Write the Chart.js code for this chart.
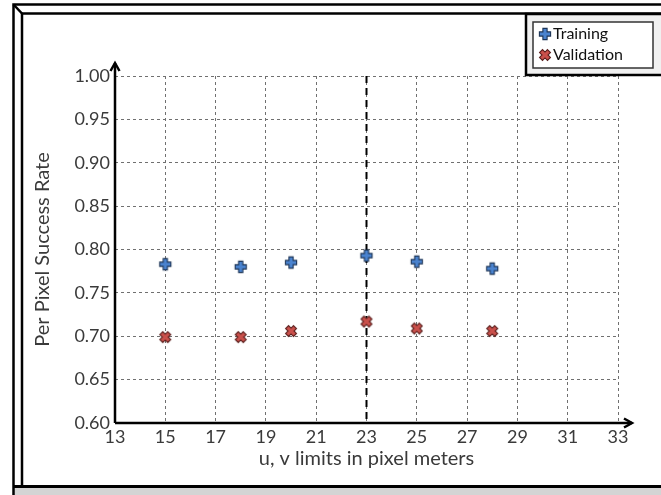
<!DOCTYPE html>
<html><head><meta charset="utf-8">
<script src="https://cdn.jsdelivr.net/npm/chart.js@4.4.0/dist/chart.umd.min.js"></script>
<style>html,body{margin:0;padding:0;background:#fff;}canvas{display:block;}</style>
</head><body>
<canvas id="c" width="661" height="495"></canvas>
<script>
// ---- data ----
const uvLimits = [15, 18, 20, 23, 25, 28];
const trainingRate = [0.783, 0.780, 0.785, 0.793, 0.786, 0.778];
const validationRate = [0.699, 0.699, 0.706, 0.717, 0.709, 0.706];
const seriesNames = ['Training', 'Validation'];
const chosenLimit = 23;
const xTickLabels = ['13','15','17','19','21','23','25','27','29','31','33'];
const yTickLabels = ['0.60','0.65','0.70','0.75','0.80','0.85','0.90','0.95','1.00'];
const xTitle = 'u, v limits in pixel meters';
const yTitle = 'Per Pixel Success Rate';

// ---- marker images ----
function markerImage(fill, stroke, angle) {
  const s = 16, c = document.createElement('canvas');
  c.width = s; c.height = s;
  const g = c.getContext('2d');
  g.translate(s / 2, s / 2);
  g.rotate(angle);
  const a = 5.6, w = 2.1;
  g.beginPath();
  g.moveTo(-w, -a); g.lineTo(w, -a); g.lineTo(w, -w); g.lineTo(a, -w);
  g.lineTo(a, w); g.lineTo(w, w); g.lineTo(w, a); g.lineTo(-w, a);
  g.lineTo(-w, w); g.lineTo(-a, w); g.lineTo(-a, -w); g.lineTo(-w, -w);
  g.closePath();
  g.fillStyle = fill; g.fill();
  g.lineWidth = 1.1; g.strokeStyle = stroke; g.stroke();
  return c;
}
const plusImg = markerImage('#4a83cf', '#1d3557', 0);
const crossImg = markerImage('#c9504b', '#5a1f1d', Math.PI / 4);

const toPoints = (xs, ys) => xs.map((x, i) => ({x: x, y: ys[i]}));

const FONT = 'Lato, "Open Sans", sans-serif';
const TXT = '#3a3a3a';

const decoPlugin = {
  id: 'deco',
  beforeDraw(chart) {
    const ctx = chart.ctx;
    ctx.save();
    ctx.fillStyle = '#fff';
    ctx.fillRect(0, 0, chart.width, chart.height);
    ctx.fillStyle = '#d4d4d4';
    ctx.fillRect(13, 488, 661, 7);
    ctx.strokeStyle = '#000';
    ctx.lineWidth = 2.5;
    ctx.beginPath();
    ctx.moveTo(13.5, 495); ctx.lineTo(13.5, 4.5); ctx.lineTo(661, 4.5);
    ctx.stroke();
    ctx.beginPath();
    ctx.moveTo(22, 486); ctx.lineTo(22, 13.5); ctx.lineTo(661, 13.5);
    ctx.stroke();
    ctx.beginPath();
    ctx.moveTo(13.5, 4.5); ctx.lineTo(22, 13.5); ctx.stroke();
    ctx.lineWidth = 3;
    ctx.beginPath();
    ctx.moveTo(13, 486.5); ctx.lineTo(661, 486.5); ctx.stroke();
    ctx.restore();
  },
  beforeDatasetsDraw(chart) {
    const ctx = chart.ctx, x = chart.scales.x, a = chart.chartArea;
    const px = x.getPixelForValue(chosenLimit);
    ctx.save();
    ctx.strokeStyle = '#000';
    ctx.lineWidth = 2;
    ctx.setLineDash([7, 5]);
    ctx.beginPath();
    ctx.moveTo(px, a.top); ctx.lineTo(px, a.bottom);
    ctx.stroke();
    ctx.restore();
  },
  afterDraw(chart) {
    const ctx = chart.ctx, a = chart.chartArea;
    ctx.save();
    ctx.strokeStyle = '#000';
    ctx.lineWidth = 2.5;
    ctx.lineJoin = 'miter';
    ctx.beginPath();
    ctx.moveTo(a.left, a.bottom); ctx.lineTo(a.left, a.top - 13);
    ctx.moveTo(a.left, a.bottom); ctx.lineTo(a.right + 14, a.bottom);
    ctx.stroke();
    ctx.beginPath();
    ctx.moveTo(a.left - 4.5, a.top - 5); ctx.lineTo(a.left, a.top - 13); ctx.lineTo(a.left + 4.5, a.top - 5);
    ctx.moveTo(a.right + 6, a.bottom - 4.5); ctx.lineTo(a.right + 14, a.bottom); ctx.lineTo(a.right + 6, a.bottom + 4.5);
    ctx.stroke();
    // legend
    ctx.fillStyle = '#f0f0f0';
    ctx.fillRect(525, 13, 136, 62);
    ctx.lineWidth = 2.5;
    ctx.strokeStyle = '#000';
    ctx.strokeRect(526, 14, 140, 61);
    ctx.fillStyle = '#fff';
    ctx.fillRect(533, 22, 120, 46);
    ctx.lineWidth = 1.5;
    ctx.strokeStyle = '#333';
    ctx.strokeRect(533, 22, 120, 46);
    const imgs = [plusImg, crossImg];
    const ys = [34, 55];
    ctx.font = '16px ' + FONT;
    ctx.fillStyle = '#111';
    ctx.textBaseline = 'middle';
    chart.data.datasets.forEach((d, i) => {
      ctx.drawImage(imgs[i], 545 - 8, ys[i] - 8);
      ctx.fillText(d.label, 553, ys[i]);
    });
    ctx.restore();
  }
};

new Chart(document.getElementById('c'), {
  type: 'scatter',
  data: {
    datasets: [
      { label: seriesNames[0], data: toPoints(uvLimits, trainingRate), pointStyle: plusImg, pointRadius: 7 },
      { label: seriesNames[1], data: toPoints(uvLimits, validationRate), pointStyle: crossImg, pointRadius: 7 }
    ]
  },
  options: {
    responsive: false,
    animation: false,
    devicePixelRatio: 1,
    layout: { padding: { top: 76, right: 43, left: 0, bottom: 0 } },
    plugins: { legend: { display: false }, tooltip: { enabled: false } },
    scales: {
      x: {
        type: 'linear', min: 13, max: 33,
        afterBuildTicks: s => { s.ticks = xTickLabels.map(v => ({value: Number(v)})); },
        afterFit: s => { s.height = 72; },
        ticks: { callback: (v, i) => xTickLabels[i], font: { family: FONT, size: 18 }, color: TXT, padding: 3, maxRotation: 0 },
        grid: { color: '#707070', lineWidth: 1, drawTicks: false },
        border: { display: false, dash: [3, 3] },
        title: { display: true, text: xTitle, font: { family: FONT, size: 20, lineHeight: 1.2 }, color: TXT, padding: { top: 0, bottom: 24 } }
      },
      y: {
        type: 'linear', min: 0.6, max: 1.0,
        afterBuildTicks: s => { s.ticks = yTickLabels.map(v => ({value: Number(v)})); },
        afterFit: s => { s.width = 115; },
        ticks: { callback: (v, i) => yTickLabels[i], font: { family: FONT, size: 18 }, color: TXT, padding: 5 },
        grid: { color: '#707070', lineWidth: 1, drawTicks: false },
        border: { display: false, dash: [3, 3] },
        title: { display: true, text: yTitle, font: { family: FONT, size: 20, lineHeight: 1.2 }, color: TXT, padding: { top: 31, bottom: 0 } }
      }
    }
  },
  plugins: [decoPlugin]
});
</script>
</body></html>
